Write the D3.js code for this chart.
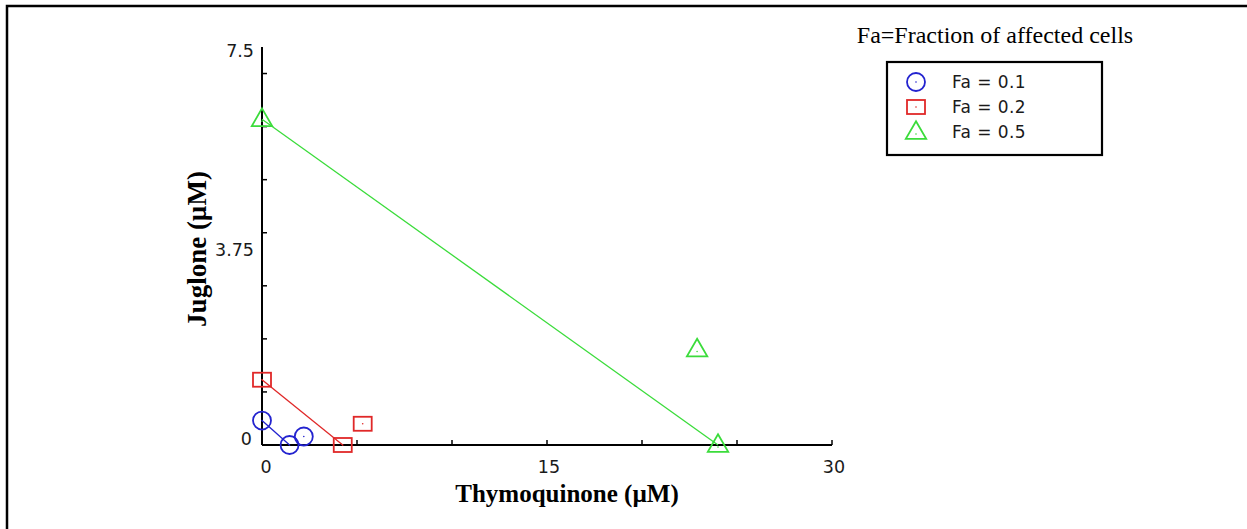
<!DOCTYPE html>
<html>
<head>
<meta charset="utf-8">
<script src="https://cdn.jsdelivr.net/npm/d3@7"></script>
<style>
  body { margin: 0; background: #fff; }
  svg { display: block; }
</style>
</head>
<body>
<div id="chart"></div>
<script>
// data
var seriesNames = ["Fa = 0.1", "Fa = 0.2", "Fa = 0.5"];
var seriesColours = ["#2323cf", "#e02828", "#3bdc3b"];
var seriesShapes = ["circle", "square", "triangle"];
// thymoquinone (x) and juglone (y), µM; the first two points form the isobole line
var fa01_x = [0, 1.45, 2.2];
var fa01_y = [0.46, 0, 0.16];
var fa02_x = [0, 4.25, 5.3];
var fa02_y = [1.23, 0, 0.4];
var fa05_x = [0, 24.0, 22.9];
var fa05_y = [6.14, 0, 1.8];
var xTickLabels = [0, 15, 30];
var yTickLabels = [0, 3.75, 7.5];
var xMinorTicks = [5, 10, 15, 20, 25, 30];
var yMinorTicks = [1, 2, 3, 4, 5, 6, 7];

var allX = [fa01_x, fa02_x, fa05_x];
var allY = [fa01_y, fa02_y, fa05_y];

var W = 1247, H = 529;
var svg = d3.select("#chart").append("svg")
    .attr("width", W)
    .attr("height", H);

// frame round the figure (right and bottom fall outside)
svg.append("rect")
    .attr("x", 7).attr("y", 6)
    .attr("width", 1300).attr("height", 600)
    .attr("fill", "none")
    .attr("stroke", "#000")
    .attr("stroke-width", 2.5);

var x = d3.scaleLinear().domain([0, 30]).range([262, 832]);
var y = d3.scaleLinear().domain([0, 7.5]).range([445, 47]);

var tickFont = "DejaVu Sans, Verdana, sans-serif";

// axes lines
var g = svg.append("g");
g.append("line")
    .attr("x1", x(0)).attr("x2", x(30))
    .attr("y1", y(0)).attr("y2", y(0))
    .attr("stroke", "#000").attr("stroke-width", 2);
g.append("line")
    .attr("x1", x(0)).attr("x2", x(0))
    .attr("y1", y(0)).attr("y2", y(7.5))
    .attr("stroke", "#000").attr("stroke-width", 2);

// ticks pointing inward
g.selectAll("line.xt").data(xMinorTicks).enter().append("line")
    .attr("class", "xt")
    .attr("x1", function(d){ return x(d); }).attr("x2", function(d){ return x(d); })
    .attr("y1", y(0)).attr("y2", y(0) - 5)
    .attr("stroke", "#000").attr("stroke-width", 1.5);
g.selectAll("line.yt").data(yMinorTicks).enter().append("line")
    .attr("class", "yt")
    .attr("x1", x(0)).attr("x2", x(0) + 5)
    .attr("y1", function(d){ return y(d); }).attr("y2", function(d){ return y(d); })
    .attr("stroke", "#000").attr("stroke-width", 1.5);

// tick labels
g.selectAll("text.xl").data(xTickLabels).enter().append("text")
    .attr("class", "xl")
    .attr("x", function(d){ return x(d) + (d == 0 ? 4 : 2); })
    .attr("y", 473)
    .attr("text-anchor", "middle")
    .attr("font-family", tickFont)
    .attr("font-size", 17.5)
    .attr("fill", "#1a1a1a")
    .text(function(d){ return d; });
g.selectAll("text.yl").data(yTickLabels).enter().append("text")
    .attr("class", "yl")
    .attr("x", function(d){ return d == 0 ? 252 : 254; })
    .attr("y", function(d){ return d == 0 ? y(d) : y(d) + 10; })
    .attr("text-anchor", "end")
    .attr("font-family", tickFont)
    .attr("font-size", 17.5)
    .attr("fill", "#1a1a1a")
    .text(function(d){ return d; });

// axis titles
svg.append("text")
    .attr("x", 567).attr("y", 502)
    .attr("text-anchor", "middle")
    .attr("font-family", "Liberation Serif, Times New Roman, serif")
    .attr("font-weight", "bold")
    .attr("font-size", 25)
    .text("Thymoquinone (µM)");
svg.append("text")
    .attr("transform", "translate(206,249) rotate(-90)")
    .attr("text-anchor", "middle")
    .attr("font-family", "Liberation Serif, Times New Roman, serif")
    .attr("font-weight", "bold")
    .attr("font-size", 27)
    .text("Juglone (µM)");

function drawMarker(sel, shape, colour, cx, cy) {
    if (shape == "circle") {
        sel.append("circle").attr("cx", cx).attr("cy", cy).attr("r", 9)
            .attr("fill", "none").attr("stroke", colour).attr("stroke-width", 1.8);
    } else if (shape == "square") {
        sel.append("rect").attr("x", cx - 9).attr("y", cy - 7).attr("width", 18).attr("height", 14)
            .attr("fill", "none").attr("stroke", colour).attr("stroke-width", 1.8);
    } else {
        var s = d3.symbol().type(d3.symbolTriangle).size(180);
        sel.append("path").attr("d", s()).attr("transform", "translate(" + cx + "," + (cy + 1) + ")")
            .attr("fill", "none").attr("stroke", colour).attr("stroke-width", 1.8);
    }
    sel.append("circle").attr("cx", cx).attr("cy", cy + (shape == "triangle" ? 2 : 0)).attr("r", 0.8)
        .attr("fill", colour);
}

// series
var line = d3.line()
    .x(function(d){ return x(d[0]); })
    .y(function(d){ return y(d[1]); });

seriesNames.forEach(function(name, i){
    var pts = allX[i].map(function(v, j){ return [v, allY[i][j]]; });
    svg.append("path")
        .datum(pts.slice(0, 2))
        .attr("d", line)
        .attr("fill", "none")
        .attr("stroke", seriesColours[i])
        .attr("stroke-width", 1.3);
    var mg = svg.append("g");
    pts.forEach(function(p){
        drawMarker(mg, seriesShapes[i], seriesColours[i], x(p[0]), y(p[1]));
    });
});

// legend
svg.append("text")
    .attr("x", 995).attr("y", 43)
    .attr("text-anchor", "middle")
    .attr("font-family", "Liberation Serif, Times New Roman, serif")
    .attr("font-size", 24)
    .text("Fa=Fraction of affected cells");
svg.append("rect")
    .attr("x", 887).attr("y", 62)
    .attr("width", 215).attr("height", 93)
    .attr("fill", "none")
    .attr("stroke", "#000")
    .attr("stroke-width", 2.2);
seriesNames.forEach(function(name, i){
    var ly = 82 + i * 25;
    var lg = svg.append("g");
    drawMarker(lg, seriesShapes[i], seriesColours[i], 916, ly);
    lg.append("text")
        .attr("x", 952).attr("y", ly + 6)
        .attr("font-family", tickFont)
        .attr("font-size", 17)
        .attr("letter-spacing", 0.4)
        .attr("fill", "#1a1a1a")
        .text(name);
});
</script>
</body>
</html>
